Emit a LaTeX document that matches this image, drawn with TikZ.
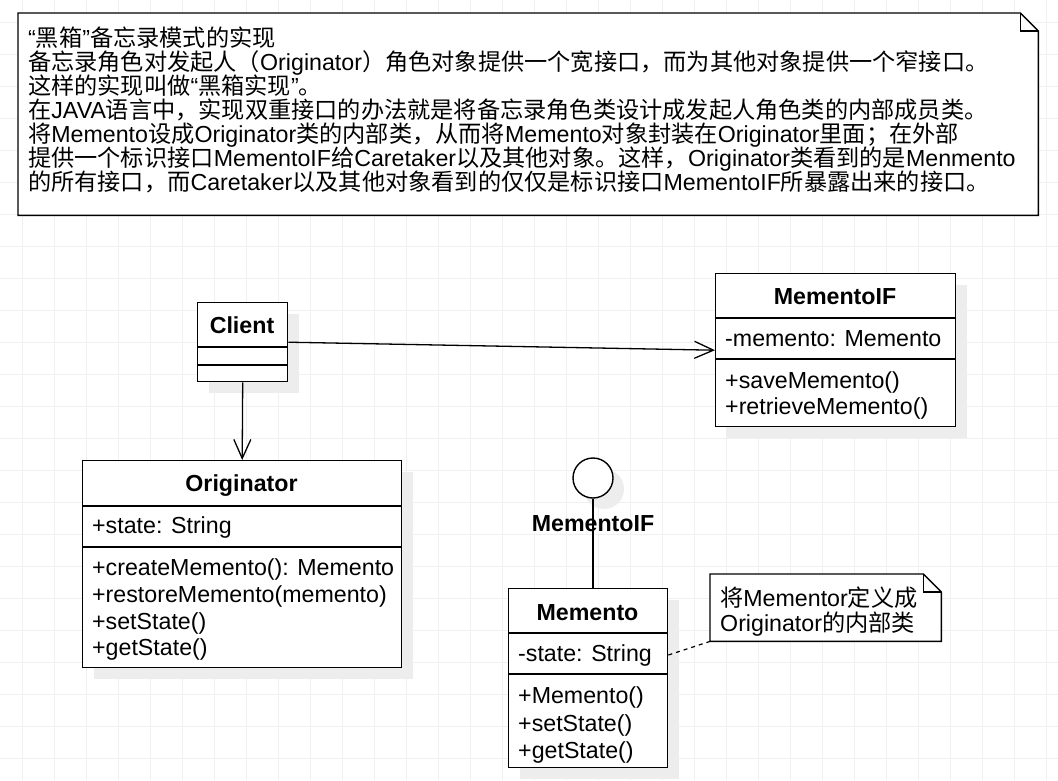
\documentclass[tikz,border=0pt]{standalone}
\usepackage{fontspec}
\setmainfont{Liberation Sans}
\newfontfamily\cjk{Noto Sans CJK SC}
\usetikzlibrary{arrows.meta,shadows,calc}
\newcommand\zh[1]{{\cjk #1}}
\tikzset{
 bline/.style={line width=1.4pt, draw=black},
 shd/.style={drop shadow={shadow xshift=11pt, shadow yshift=-11pt, fill=black!7, opacity=1}},
 classbox/.style={bline, fill=white, anchor=north west, inner sep=0pt, shd},
 ttl/.style={anchor=base, inner sep=0pt, font=\fontsize{23.2}{26}\selectfont\bfseries},
 memb/.style={anchor=base west, inner sep=0pt},
 assoc/.style={line width=1.3pt, -{Straight Barb[length=19pt,width=17pt]}},
 gridl/.style={draw=black!6, line width=1pt},
 notebox/.style={inner sep=0pt, anchor=north west},
}
\begin{document}
\begin{tikzpicture}[x=1pt,y=-1pt,font=\fontsize{23.2}{26}\selectfont]
\useasboundingbox[fill=white] (0,0) rectangle (1058,780);
% grid
\foreach \g in {22,54,...,1046} \draw[gridl] (\g,0) -- (\g,780);
\foreach \g in {22,54,...,758} \draw[gridl] (0,\g) -- (1058,\g);

% top note
\node[notebox, minimum width=1020, minimum height=202] (note1) at (18,13) {};
\draw[bline, fill=white] (note1.south west) -- (note1.north west) -- ([xshift=-18pt]note1.north east) -- ([yshift=-18pt]note1.north east) -- (note1.south east) -- cycle;
\draw[bline] ([xshift=-18pt]note1.north east) -- ([xshift=-18pt,yshift=-18pt]note1.north east) -- ([yshift=-18pt]note1.north east);
\node[memb] (t1) at (28,46) {“\zh{黑箱}”\zh{备忘录模式的实现}};
\node[memb] (t2) at (28,70.2) {\zh{备忘录角色对发起人（}Originator\zh{）角色对象提供一个宽接口，而为其他对象提供一个窄接口。}};
\node[memb] (t3) at (28,94.3) {\zh{这样的实现叫做}“\zh{黑箱实现}”\zh{。}};
\node[memb] (t4) at (28,118.5) {\zh{在}JAVA\zh{语言中，实现双重接口的办法就是将备忘录角色类设计成发起人角色类的内部成员类。}};
\node[memb] (t5) at (28,142.6) {\zh{将}Memento\zh{设成}Originator\zh{类的内部类，从而将}Memento\zh{对象封装在}Originator\zh{里面；在外部}};
\node[memb] (t6) at (28,166.8) {\zh{提供一个标识接口}MementoIF\zh{给}Caretaker\zh{以及其他对象。这样，}Originator\zh{类看到的是}Menmento};
\node[memb] (t7) at (28,190.9) {\zh{的所有接口，而}Caretaker\zh{以及其他对象看到的仅仅是标识接口}MementoIF\zh{所暴露出来的接口。}};

% Client
\node[classbox, minimum width=90, minimum height=79] (client) at (197,302) {};
\draw[bline] ([yshift=-45pt]client.north west) -- ([yshift=-45pt]client.north east);
\draw[bline] ([yshift=-63pt]client.north west) -- ([yshift=-63pt]client.north east);
\node[ttl] (clientT) at (242,333) {Client};

% MementoIF
\node[classbox, minimum width=240, minimum height=153] (mif) at (715,273) {};
\draw[bline] ([yshift=-45pt]mif.north west) -- ([yshift=-45pt]mif.north east);
\draw[bline] ([yshift=-86pt]mif.north west) -- ([yshift=-86pt]mif.north east);
\node[ttl] (mifT) at (835,304) {MementoIF};
\node[memb] (mifA) at (725,346) {-memento: Memento};
\node[memb] (mifO1) at (725,388) {+saveMemento()};
\node[memb] (mifO2) at (725,414) {+retrieveMemento()};

% Originator
\node[classbox, minimum width=319, minimum height=207] (orig) at (82,460) {};
\draw[bline] ([yshift=-46pt]orig.north west) -- ([yshift=-46pt]orig.north east);
\draw[bline] ([yshift=-87pt]orig.north west) -- ([yshift=-87pt]orig.north east);
\node[ttl] (origT) at (241.5,491) {Originator};
\node[memb] (origA) at (92,533) {+state: String};
\node[memb] (origO1) at (92,575) {+createMemento(): Memento};
\node[memb] (origO2) at (92,602) {+restoreMemento(memento)};
\node[memb] (origO3) at (92,629) {+setState()};
\node[memb] (origO4) at (92,655) {+getState()};

% Memento
\node[classbox, minimum width=159, minimum height=179] (mem) at (508,588) {};
\draw[bline] ([yshift=-45pt]mem.north west) -- ([yshift=-45pt]mem.north east);
\draw[bline] ([yshift=-86pt]mem.north west) -- ([yshift=-86pt]mem.north east);
\node[ttl] (memT) at (587.5,620) {Memento};
\node[memb] (memA) at (518,661) {-state: String};
\node[memb] (memO1) at (518,703) {+Memento()};
\node[memb] (memO2) at (518,731) {+setState()};
\node[memb] (memO3) at (518,758) {+getState()};

% lollipop
\node[circle, bline, fill=white, minimum size=40pt, inner sep=0pt, shd] (lol) at (593,478) {};
\draw[line width=1.3pt] (lol.south) -- (lol.south |- mem.north);
\node[ttl] (lolT) at (593,531) {MementoIF};

% small note
\node[notebox, minimum width=231, minimum height=67] (note2) at (710,574) {};
\draw[bline, fill=white] (note2.south west) -- (note2.north west) -- ([xshift=-18pt]note2.north east) -- ([yshift=-18pt]note2.north east) -- (note2.south east) -- cycle;
\draw[bline] ([xshift=-18pt]note2.north east) -- ([xshift=-18pt,yshift=-18pt]note2.north east) -- ([yshift=-18pt]note2.north east);
\node[memb] (n2a) at (720,606) {\zh{将}Mementor\zh{定义成}};
\node[memb] (n2b) at (720,631) {Originator\zh{的内部类}};

% connectors
\draw[assoc] (client.south) -- (orig.north);
\draw[assoc] (client.east) -- (mif.west);
\draw[line width=1.2pt, dash pattern=on 4pt off 4pt] (mem.east |- memA) -- (note2.south west);
\end{tikzpicture}
\end{document}
